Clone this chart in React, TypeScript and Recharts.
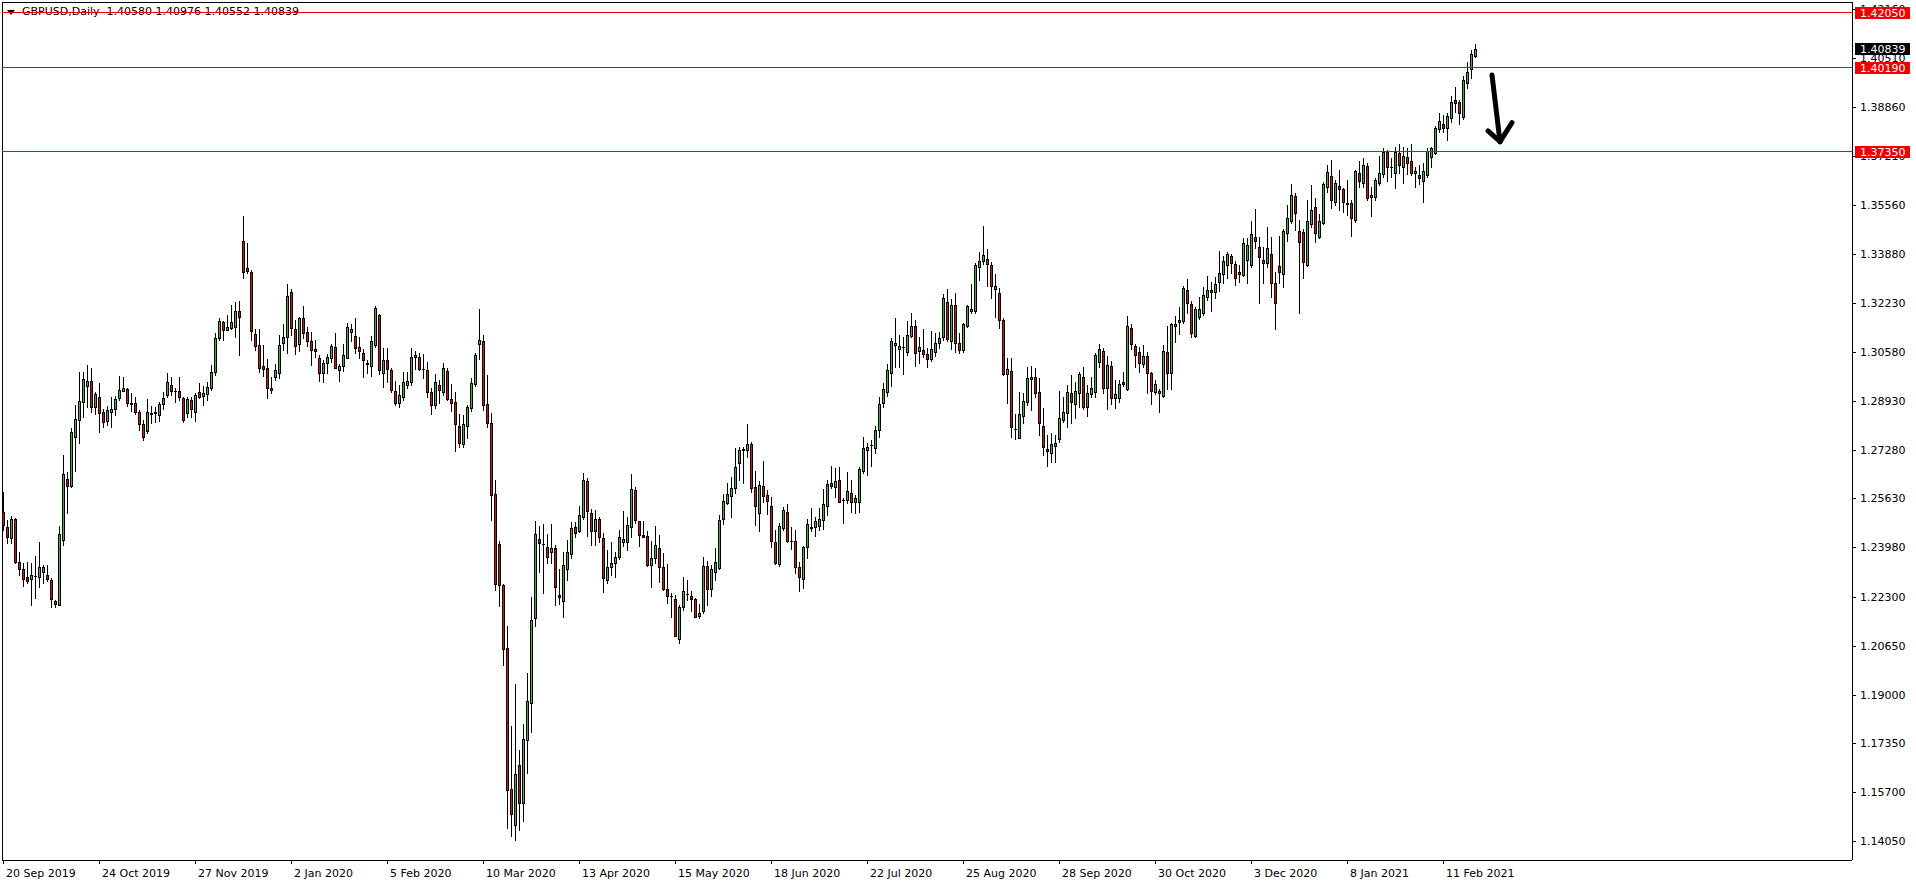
import React from "react";
import { ComposedChart, Bar, XAxis, YAxis, ReferenceLine } from "recharts";

const symbolTitle = "GBPUSD,Daily";

const opens = [
  1.2518, 1.2465, 1.2428, 1.2492, 1.2347, 1.2323, 1.2296, 1.2289, 1.2301, 1.2298,
  1.2315, 1.2304, 1.2287, 1.2216, 1.2203, 1.2422, 1.2627, 1.2605, 1.2772, 1.2828,
  1.2890, 1.2943, 1.2960, 1.2873, 1.2905, 1.2855, 1.2826, 1.2856, 1.2864, 1.2901,
  1.2927, 1.2932, 1.2887, 1.2884, 1.2855, 1.2813, 1.2792, 1.2850, 1.2853, 1.2845,
  1.2881, 1.2913, 1.2945, 1.2926, 1.2926, 1.2901, 1.2851, 1.2896, 1.2854, 1.2922,
  1.2910, 1.2915, 1.2935, 1.2989, 1.3104, 1.3158, 1.3134, 1.3138, 1.3144, 1.3196,
  1.3432, 1.3341, 1.3327, 1.3118, 1.3082, 1.3011, 1.3003, 1.2935, 1.2974, 1.2988,
  1.3090, 1.3107, 1.3260, 1.3136, 1.3084, 1.3172, 1.3124, 1.3095, 1.3069, 1.3036,
  1.2986, 1.3020, 1.3038, 1.3074, 1.2998, 1.3010, 1.3038, 1.3126, 1.3111, 1.3076,
  1.3055, 1.3020, 1.3010, 1.3080, 1.3182, 1.2986, 1.3030, 1.2998, 1.2926, 1.2886,
  1.2907, 1.2948, 1.2957, 1.3042, 1.3041, 1.3000, 1.2997, 1.2922, 1.2879, 1.2945,
  1.2923, 1.2995, 1.2898, 1.2888, 1.2809, 1.2748, 1.2807, 1.2869, 1.2951, 1.3086,
  1.3095, 1.2882, 1.2817, 1.2579, 1.2410, 1.2269, 1.2058, 1.1582, 1.1459, 1.1661,
  1.1534, 1.1745, 1.1871, 1.2160, 1.2425, 1.2409, 1.2398, 1.2383, 1.2394, 1.2238,
  1.2217, 1.2325, 1.2374, 1.2465, 1.2454, 1.2501, 1.2622, 1.2513, 1.2454, 1.2495,
  1.2428, 1.2287, 1.2330, 1.2346, 1.2364, 1.2417, 1.2417, 1.2467, 1.2592, 1.2486,
  1.2439, 1.2436, 1.2338, 1.2360, 1.2397, 1.2330, 1.2258, 1.2233, 1.2222, 1.2087,
  1.2195, 1.2240, 1.2233, 1.2222, 1.2167, 1.2183, 1.2334, 1.2258, 1.2315, 1.2329,
  1.2492, 1.2548, 1.2572, 1.2597, 1.2681, 1.2725, 1.2725, 1.2747, 1.2600, 1.2515,
  1.2605, 1.2574, 1.2537, 1.2414, 1.2341, 1.2462, 1.2517, 1.2420, 1.2419, 1.2332,
  1.2289, 1.2398, 1.2462, 1.2468, 1.2470, 1.2490, 1.2537, 1.2614, 1.2600, 1.2625,
  1.2558, 1.2558, 1.2580, 1.2550, 1.2552, 1.2656, 1.2726, 1.2743, 1.2732, 1.2794,
  1.2884, 1.2924, 1.2986, 1.3083, 1.3067, 1.3075, 1.3059, 1.3112, 1.3146, 1.3062,
  1.3064, 1.3050, 1.3033, 1.3059, 1.3087, 1.3110, 1.3228, 1.3095, 1.3216, 1.3087,
  1.3064, 1.3146, 1.3198, 1.3197, 1.3344, 1.3367, 1.3371, 1.3352, 1.3270, 1.3256,
  1.3166, 1.2983, 1.2995, 1.2797, 1.2768, 1.2841, 1.2890, 1.2972, 1.2972, 1.2924,
  1.2809, 1.2730, 1.2715, 1.2740, 1.2763, 1.2828, 1.2853, 1.2918, 1.2881, 1.2920,
  1.2972, 1.2871, 1.2915, 1.2924, 1.3025, 1.3062, 1.2937, 1.3011, 1.2904, 1.2901,
  1.2955, 1.2932, 1.3138, 1.3078, 1.3057, 1.3016, 1.3044, 1.2986, 1.2924, 1.2926,
  1.2909, 1.3057, 1.2986, 1.3147, 1.3160, 1.3164, 1.3267, 1.3220, 1.3112, 1.3175,
  1.3189, 1.3245, 1.3262, 1.3262, 1.3293, 1.3321, 1.3352, 1.3383, 1.3354, 1.3328,
  1.3318, 1.3369, 1.3352, 1.3446, 1.3412, 1.3369, 1.3358, 1.3389, 1.3290, 1.3349,
  1.3321, 1.3459, 1.3502, 1.3585, 1.3467, 1.3462, 1.3352, 1.3491, 1.3547, 1.3448,
  1.3495, 1.3615, 1.3653, 1.3566, 1.3619, 1.3608, 1.3560, 1.3561, 1.3504, 1.3662,
  1.3628, 1.3687, 1.3583, 1.3583, 1.3630, 1.3659, 1.3733, 1.3683, 1.3664, 1.3730,
  1.3682, 1.3716, 1.3704, 1.3662, 1.3656, 1.3637, 1.3656, 1.3718, 1.3732, 1.3811,
  1.3829, 1.3814, 1.3848, 1.3910, 1.3904, 1.3853, 1.3968, 1.4014, 1.40580,
];

const highs = [
  1.2586, 1.2490, 1.2503, 1.2496, 1.2383, 1.2343, 1.2349, 1.2343, 1.2368, 1.2417,
  1.2338, 1.2338, 1.2293, 1.2219, 1.2470, 1.2710, 1.2653, 1.2800, 1.2879, 1.2991,
  1.2991, 1.3014, 1.3003, 1.2924, 1.2952, 1.2864, 1.2875, 1.2905, 1.2909, 1.2977,
  1.2974, 1.2935, 1.2918, 1.2907, 1.2862, 1.2828, 1.2898, 1.2875, 1.2873, 1.2890,
  1.2924, 1.2988, 1.2974, 1.2935, 1.2972, 1.2907, 1.2907, 1.2907, 1.2921, 1.2952,
  1.2943, 1.2958, 1.3014, 1.3121, 1.3172, 1.3164, 1.3183, 1.3217, 1.3228, 1.3230,
  1.3518, 1.3428, 1.3335, 1.3135, 1.3135, 1.3082, 1.3033, 1.2974, 1.3017, 1.3116,
  1.3153, 1.3288, 1.3270, 1.3166, 1.3177, 1.3213, 1.3143, 1.3124, 1.3099, 1.3047,
  1.3032, 1.3051, 1.3086, 1.3122, 1.3017, 1.3085, 1.3157, 1.3154, 1.3174, 1.3110,
  1.3067, 1.3032, 1.3111, 1.3214, 1.3186, 1.3070, 1.3070, 1.3005, 1.2961, 1.2948,
  1.2992, 1.2992, 1.3072, 1.3063, 1.3053, 1.3051, 1.3023, 1.2936, 1.2982, 1.2963,
  1.3020, 1.3003, 1.2951, 1.2923, 1.2848, 1.2844, 1.2879, 1.2970, 1.3053, 1.3204,
  1.3117, 1.2980, 1.2851, 1.2625, 1.2419, 1.2272, 1.2131, 1.1793, 1.1934, 1.1711,
  1.1799, 1.1972, 1.2229, 1.2485, 1.2469, 1.2475, 1.2441, 1.2476, 1.2405, 1.2326,
  1.2383, 1.2422, 1.2484, 1.2484, 1.2537, 1.2650, 1.2633, 1.2526, 1.2524, 1.2501,
  1.2445, 1.2388, 1.2417, 1.2383, 1.2456, 1.2521, 1.2501, 1.2645, 1.2600, 1.2487,
  1.2487, 1.2454, 1.2420, 1.2469, 1.2439, 1.2377, 1.2341, 1.2244, 1.2236, 1.2202,
  1.2298, 1.2287, 1.2250, 1.2225, 1.2206, 1.2364, 1.2352, 1.2338, 1.2394, 1.2507,
  1.2578, 1.2616, 1.2637, 1.2734, 1.2738, 1.2738, 1.2814, 1.2755, 1.2655, 1.2622,
  1.2690, 1.2591, 1.2569, 1.2456, 1.2479, 1.2535, 1.2544, 1.2465, 1.2456, 1.2349,
  1.2402, 1.2493, 1.2529, 1.2499, 1.2529, 1.2594, 1.2625, 1.2672, 1.2667, 1.2668,
  1.2563, 1.2651, 1.2625, 1.2574, 1.2670, 1.2772, 1.2749, 1.2760, 1.2808, 1.2907,
  1.2954, 1.3016, 1.3106, 1.3174, 1.3115, 1.3110, 1.3163, 1.3189, 1.3166, 1.3110,
  1.3135, 1.3072, 1.3129, 1.3121, 1.3127, 1.3254, 1.3270, 1.3236, 1.3256, 1.3123,
  1.3155, 1.3217, 1.3288, 1.3360, 1.3397, 1.3484, 1.3405, 1.3363, 1.3322, 1.3273,
  1.3172, 1.3036, 1.3036, 1.2850, 1.2924, 1.2918, 1.3008, 1.3010, 1.3003, 1.2969,
  1.2868, 1.2777, 1.2783, 1.2777, 1.2927, 1.2907, 1.2946, 1.2980, 1.2958, 1.2991,
  1.3008, 1.2946, 1.2974, 1.3053, 1.3084, 1.3070, 1.3045, 1.3028, 1.2963, 1.2963,
  1.2991, 1.3180, 1.3153, 1.3085, 1.3076, 1.3082, 1.3059, 1.2989, 1.2963, 1.2933,
  1.3082, 1.3146, 1.3157, 1.3180, 1.3211, 1.3281, 1.3305, 1.3230, 1.3211, 1.3245,
  1.3276, 1.3315, 1.3296, 1.3313, 1.3400, 1.3382, 1.3397, 1.3389, 1.3367, 1.3352,
  1.3445, 1.3442, 1.3502, 1.3541, 1.3448, 1.3414, 1.3481, 1.3448, 1.3330, 1.3451,
  1.3474, 1.3555, 1.3625, 1.3594, 1.3504, 1.3473, 1.3572, 1.3622, 1.3578, 1.3523,
  1.3631, 1.3690, 1.3707, 1.3639, 1.3673, 1.3611, 1.3639, 1.3572, 1.3673, 1.3704,
  1.3715, 1.3698, 1.3617, 1.3645, 1.3721, 1.3746, 1.3741, 1.3713, 1.3750, 1.3760,
  1.3750, 1.3746, 1.3761, 1.3684, 1.3690, 1.3698, 1.3746, 1.3752, 1.3822, 1.3867,
  1.3859, 1.3867, 1.3923, 1.3955, 1.3910, 1.3991, 1.4037, 1.4079, 1.40976,
];

const lows = [
  1.2456, 1.2413, 1.2413, 1.2343, 1.2304, 1.2267, 1.2276, 1.2203, 1.2225, 1.2264,
  1.2276, 1.2285, 1.2195, 1.2195, 1.2203, 1.2405, 1.2515, 1.2603, 1.2657, 1.2749,
  1.2839, 1.2873, 1.2856, 1.2847, 1.2789, 1.2805, 1.2811, 1.2805, 1.2845, 1.2896,
  1.2926, 1.2875, 1.2858, 1.2850, 1.2794, 1.2760, 1.2783, 1.2819, 1.2822, 1.2826,
  1.2864, 1.2907, 1.2913, 1.2890, 1.2896, 1.2822, 1.2837, 1.2839, 1.2826, 1.2901,
  1.2879, 1.2896, 1.2929, 1.2980, 1.3098, 1.3098, 1.3132, 1.3136, 1.3107, 1.3048,
  1.3307, 1.3324, 1.3098, 1.3065, 1.2991, 1.2977, 1.2904, 1.2920, 1.2963, 1.2969,
  1.3065, 1.3053, 1.3115, 1.3051, 1.3062, 1.3104, 1.3078, 1.3013, 1.3042, 1.2961,
  1.2955, 1.2986, 1.3023, 1.3005, 1.2961, 1.2995, 1.3036, 1.3095, 1.3055, 1.3038,
  1.2973, 1.2988, 1.2976, 1.3074, 1.2982, 1.2941, 1.2957, 1.2922, 1.2879, 1.2873,
  1.2894, 1.2936, 1.2945, 1.3001, 1.2997, 1.2970, 1.2907, 1.2848, 1.2869, 1.2886,
  1.2913, 1.2894, 1.2859, 1.2723, 1.2738, 1.2738, 1.2767, 1.2859, 1.2942, 1.3035,
  1.2863, 1.2803, 1.2490, 1.2254, 1.2200, 1.1999, 1.1448, 1.1423, 1.1408, 1.1442,
  1.1474, 1.1636, 1.1774, 1.2131, 1.2315, 1.2243, 1.2344, 1.2343, 1.2202, 1.2206,
  1.2163, 1.2287, 1.2360, 1.2431, 1.2450, 1.2493, 1.2436, 1.2405, 1.2405, 1.2417,
  1.2248, 1.2276, 1.2304, 1.2298, 1.2357, 1.2402, 1.2388, 1.2431, 1.2481, 1.2402,
  1.2431, 1.2334, 1.2264, 1.2343, 1.2281, 1.2253, 1.2210, 1.2163, 1.2098, 1.2075,
  1.2186, 1.2219, 1.2183, 1.2161, 1.2157, 1.2174, 1.2203, 1.2233, 1.2287, 1.2324,
  1.2476, 1.2544, 1.2501, 1.2582, 1.2625, 1.2616, 1.2704, 1.2586, 1.2473, 1.2454,
  1.2552, 1.2510, 1.2400, 1.2341, 1.2334, 1.2456, 1.2417, 1.2391, 1.2312, 1.2251,
  1.2259, 1.2360, 1.2454, 1.2436, 1.2456, 1.2458, 1.2507, 1.2597, 1.2567, 1.2550,
  1.2479, 1.2548, 1.2518, 1.2512, 1.2518, 1.2650, 1.2642, 1.2673, 1.2718, 1.2769,
  1.2873, 1.2909, 1.2944, 1.3006, 1.3006, 1.2982, 1.3048, 1.3107, 1.3011, 1.3020,
  1.3042, 1.3006, 1.3028, 1.3045, 1.3070, 1.3098, 1.3095, 1.3067, 1.3059, 1.3053,
  1.3057, 1.3141, 1.3189, 1.3189, 1.3301, 1.3355, 1.3282, 1.3242, 1.3177, 1.3140,
  1.2980, 1.2884, 1.2772, 1.2763, 1.2766, 1.2817, 1.2879, 1.2862, 1.2907, 1.2777,
  1.2710, 1.2674, 1.2687, 1.2687, 1.2755, 1.2820, 1.2806, 1.2819, 1.2836, 1.2873,
  1.2864, 1.2843, 1.2907, 1.2907, 1.3006, 1.2920, 1.2864, 1.2881, 1.2868, 1.2890,
  1.2943, 1.2929, 1.3068, 1.3008, 1.2989, 1.3008, 1.2918, 1.2881, 1.2915, 1.2854,
  1.2905, 1.2932, 1.2932, 1.3093, 1.3119, 1.3157, 1.3191, 1.3107, 1.3107, 1.3168,
  1.3183, 1.3234, 1.3198, 1.3242, 1.3265, 1.3290, 1.3307, 1.3324, 1.3284, 1.3296,
  1.3315, 1.3290, 1.3346, 1.3408, 1.3225, 1.3290, 1.3346, 1.3245, 1.3135, 1.3290,
  1.3279, 1.3434, 1.3493, 1.3470, 1.3189, 1.3307, 1.3349, 1.3482, 1.3431, 1.3442,
  1.3491, 1.3598, 1.3544, 1.3555, 1.3538, 1.3532, 1.3521, 1.3450, 1.3499, 1.3615,
  1.3617, 1.3572, 1.3519, 1.3572, 1.3622, 1.3651, 1.3637, 1.3651, 1.3611, 1.3662,
  1.3630, 1.3660, 1.3656, 1.3615, 1.3626, 1.3566, 1.3648, 1.3682, 1.3727, 1.3803,
  1.3803, 1.3775, 1.3837, 1.3870, 1.3829, 1.3844, 1.3952, 1.3983, 1.40552,
];

const closes = [
  1.2473, 1.2434, 1.2495, 1.2349, 1.2323, 1.2289, 1.2285, 1.2304, 1.2300, 1.2330,
  1.2330, 1.2289, 1.2222, 1.2205, 1.2443, 1.2645, 1.2605, 1.2789, 1.2830, 1.2892,
  1.2965, 1.2960, 1.2873, 1.2916, 1.2851, 1.2822, 1.2862, 1.2864, 1.2898, 1.2929,
  1.2935, 1.2884, 1.2881, 1.2856, 1.2813, 1.2772, 1.2855, 1.2851, 1.2854, 1.2882,
  1.2903, 1.2956, 1.2927, 1.2926, 1.2907, 1.2828, 1.2898, 1.2864, 1.2913, 1.2907,
  1.2918, 1.2941, 1.2991, 1.3104, 1.3163, 1.3132, 1.3142, 1.3158, 1.3196, 1.3175,
  1.3330, 1.3333, 1.3130, 1.3079, 1.3005, 1.3000, 1.2937, 1.2929, 1.2997, 1.3082,
  1.3110, 1.3247, 1.3138, 1.3079, 1.3172, 1.3121, 1.3096, 1.3066, 1.3060, 1.2988,
  1.3020, 1.3041, 1.3078, 1.3005, 1.3010, 1.3047, 1.3142, 1.3137, 1.3070, 1.3060,
  1.3030, 1.3019, 1.3095, 1.3207, 1.2998, 1.3032, 1.3001, 1.2928, 1.2884, 1.2913,
  1.2955, 1.2960, 1.3041, 1.3047, 1.3001, 1.2999, 1.2922, 1.2879, 1.2955, 1.2930,
  1.3003, 1.2898, 1.2884, 1.2813, 1.2750, 1.2813, 1.2873, 1.2953, 1.3047, 1.3099,
  1.2879, 1.2819, 1.2573, 1.2275, 1.2269, 1.2053, 1.1577, 1.1496, 1.1632, 1.1534,
  1.1749, 1.1877, 1.2152, 1.2444, 1.2412, 1.2409, 1.2365, 1.2394, 1.2264, 1.2231,
  1.2338, 1.2381, 1.2462, 1.2445, 1.2507, 1.2625, 1.2521, 1.2454, 1.2495, 1.2431,
  1.2293, 1.2332, 1.2343, 1.2364, 1.2431, 1.2425, 1.2473, 1.2594, 1.2490, 1.2439,
  1.2434, 1.2338, 1.2360, 1.2405, 1.2332, 1.2258, 1.2234, 1.2233, 1.2099, 1.2195,
  1.2250, 1.2241, 1.2222, 1.2163, 1.2174, 1.2335, 1.2258, 1.2323, 1.2347, 1.2490,
  1.2554, 1.2578, 1.2599, 1.2668, 1.2727, 1.2729, 1.2747, 1.2599, 1.2538, 1.2607,
  1.2572, 1.2555, 1.2420, 1.2343, 1.2470, 1.2524, 1.2420, 1.2420, 1.2332, 1.2298,
  1.2400, 1.2475, 1.2468, 1.2487, 1.2492, 1.2544, 1.2612, 1.2606, 1.2622, 1.2552,
  1.2557, 1.2588, 1.2552, 1.2566, 1.2662, 1.2732, 1.2737, 1.2745, 1.2794, 1.2882,
  1.2933, 1.2997, 1.3095, 1.3087, 1.3078, 1.3075, 1.3115, 1.3146, 1.3053, 1.3075,
  1.3050, 1.3033, 1.3068, 1.3087, 1.3104, 1.3239, 1.3101, 1.3216, 1.3089, 1.3065,
  1.3151, 1.3213, 1.3202, 1.3352, 1.3367, 1.3386, 1.3354, 1.3282, 1.3281, 1.3166,
  1.2983, 1.2999, 1.2805, 1.2796, 1.2848, 1.2892, 1.2969, 1.2967, 1.2918, 1.2817,
  1.2738, 1.2724, 1.2746, 1.2749, 1.2834, 1.2854, 1.2924, 1.2888, 1.2927, 1.2983,
  1.2873, 1.2918, 1.2935, 1.3048, 1.3067, 1.2935, 1.3014, 1.2904, 1.2915, 1.2949,
  1.2949, 1.3147, 1.3085, 1.3048, 1.3020, 1.3044, 1.2986, 1.2926, 1.2949, 1.2918,
  1.3062, 1.2986, 1.3153, 1.3153, 1.3166, 1.3273, 1.3225, 1.3123, 1.3202, 1.3202,
  1.3251, 1.3267, 1.3267, 1.3288, 1.3324, 1.3365, 1.3388, 1.3358, 1.3307, 1.3322,
  1.3425, 1.3420, 1.3457, 1.3434, 1.3380, 1.3358, 1.3408, 1.3290, 1.3225, 1.3330,
  1.3467, 1.3510, 1.3589, 1.3529, 1.3429, 1.3363, 1.3501, 1.3538, 1.3459, 1.3501,
  1.3626, 1.3668, 1.3572, 1.3628, 1.3608, 1.3566, 1.3559, 1.3510, 1.3670, 1.3637,
  1.3690, 1.3580, 1.3589, 1.3639, 1.3662, 1.3735, 1.3682, 1.3682, 1.3735, 1.3690,
  1.3722, 1.3696, 1.3664, 1.3670, 1.3645, 1.3671, 1.3737, 1.3746, 1.3814, 1.3839,
  1.3816, 1.3856, 1.3904, 1.3901, 1.3867, 1.3977, 1.4004, 1.4065, 1.40839,
];

const dateLabels = [
  "20 Sep 2019", "24 Oct 2019", "27 Nov 2019", "2 Jan 2020", "5 Feb 2020",
  "10 Mar 2020", "13 Apr 2020", "15 May 2020", "18 Jun 2020", "22 Jul 2020",
  "25 Aug 2020", "28 Sep 2020", "30 Oct 2020", "3 Dec 2020", "8 Jan 2021",
  "11 Feb 2021",
];
const barsPerLabel = 24;
const totalSlots = 462;

const priceTicks = [
  1.1405, 1.157, 1.1735, 1.19, 1.2065, 1.223, 1.2398, 1.2563, 1.2728,
  1.2893, 1.3058, 1.3223, 1.3388, 1.3556, 1.3721, 1.3886, 1.4051, 1.4216,
];
const levelPrices = [1.4205, 1.4019, 1.3735];

// hand-drawn arrow annotation (bar slot, price)
const arrowShaft = [{ x: 372, y: 1.39944 }, { x: 374, y: 1.37689 }];
const arrowLeft = [{ x: 371, y: 1.38051 }, { x: 374, y: 1.37689 }];
const arrowRight = [{ x: 374, y: 1.37689 }, { x: 377, y: 1.38331 }];

const Y_DOMAIN: [number, number] = [1.134056, 1.424117];
const FONT = "'DejaVu Sans', Verdana, sans-serif";
const GREEN = "#3CB43C";
const RED_FILL = "#D21414";
const LEVEL_RED = "#F00000";

const rows = Array.from({ length: totalSlots }, (_, i) =>
  i < closes.length
    ? { i, o: opens[i], h: highs[i], l: lows[i], c: closes[i], range: [lows[i], highs[i]] }
    : { i }
);
const lastIdx = closes.length - 1;
const lastClose = closes[lastIdx];
const axisTicks = [...priceTicks, ...levelPrices, lastClose];

function Candle(props: any) {
  const { x, y, width, height, payload } = props;
  if (!payload || payload.h == null) return <g />;
  const top = Math.min(y, y + height);
  const bot = Math.max(y, y + height);
  const span = payload.h - payload.l || 1;
  const py = (v: number) => top + ((payload.h - v) / span) * (bot - top);
  const col = Math.round(x + width / 2) - 1;
  const yH = Math.round(py(payload.h));
  const yL = Math.round(py(payload.l));
  const bTop = Math.round(py(Math.max(payload.o, payload.c)));
  const bBot = Math.round(py(Math.min(payload.o, payload.c)));
  const up = payload.c >= payload.o;
  return (
    <g shapeRendering="crispEdges">
      <line x1={col + 0.5} x2={col + 0.5} y1={yH} y2={yL + 1} stroke="#000" strokeWidth={1} />
      {bBot - bTop >= 1 ? (
        <rect x={col - 0.5} y={bTop + 0.5} width={2} height={bBot - bTop}
          fill={up ? GREEN : RED_FILL} stroke="#000" strokeWidth={1} />
      ) : (
        <line x1={col - 1} x2={col + 2} y1={bTop + 0.5} y2={bTop + 0.5} stroke="#000" strokeWidth={1} />
      )}
    </g>
  );
}

function XTick(props: any) {
  const { x, y, payload } = props;
  const col = Math.round(x) - 1;
  const label = dateLabels[Math.round(payload.value / barsPerLabel)];
  return (
    <g>
      <line x1={col + 0.5} x2={col + 0.5} y1={y} y2={y + 4} stroke="#000" shapeRendering="crispEdges" />
      <text x={col + 3} y={y + 17} fontSize={11} fontFamily={FONT} fill="#000">{label}</text>
    </g>
  );
}

function YTick(props: any) {
  const { x, y, payload } = props;
  const v = Number(payload.value);
  const isLevel = levelPrices.includes(v);
  const isLast = v === lastClose;
  const yy = Math.round(y) + 0.5;
  if (isLevel || isLast) {
    const cy = Math.round(y);
    return (
      <g>
        <rect x={x + 3} y={cy - 6} width={55} height={12} fill={isLast ? "#000" : LEVEL_RED} shapeRendering="crispEdges" />
        <text x={x + 8} y={cy + 4} fontSize={11} fontFamily={FONT} fill="#fff">{v.toFixed(5)}</text>
      </g>
    );
  }
  return (
    <g>
      <line x1={x} x2={x + 4} y1={yy} y2={yy} stroke="#000" shapeRendering="crispEdges" />
      <text x={x + 8} y={y + 4} fontSize={11} fontFamily={FONT} fill="#000">{v.toFixed(5)}</text>
    </g>
  );
}

export default function App() {
  const header = `${symbolTitle}  ${opens[lastIdx].toFixed(5)} ${highs[lastIdx].toFixed(5)} ${lows[lastIdx].toFixed(5)} ${closes[lastIdx].toFixed(5)}`;
  const xTicks = dateLabels.map((_, k) => k * barsPerLabel);
  return (
    <div style={{ position: "absolute", left: 0, top: 0, width: 1916, height: 884, background: "#fff", overflow: "hidden" }}>
      <div style={{ position: "absolute", left: 2, top: 2, width: 1850, height: 858, borderLeft: "1px solid #000", borderTop: "1px solid #000", boxSizing: "border-box" }} />
      <div style={{ position: "absolute", left: 6, top: 5, fontFamily: FONT, fontSize: 11, color: "#000", whiteSpace: "pre", display: "flex", alignItems: "center", lineHeight: "14px" }}>
        <svg width={10} height={14} style={{ marginRight: 6 }}>
          <polygon points="1,5 9,5 5,10" fill="#000" />
        </svg>
        <span>{header}</span>
      </div>
      <div style={{ position: "absolute", left: 0, top: 0 }}>
        <ComposedChart width={1916} height={884} data={rows}
          margin={{ top: 2, right: 0, bottom: 0, left: 2 }} barCategoryGap={0}>
          <XAxis dataKey="i" type="category" ticks={xTicks} interval={0} height={24}
            padding={{ left: 0, right: 2 }} tickLine={false} tickSize={0} tickMargin={0}
            axisLine={{ stroke: "#000", shapeRendering: "crispEdges" }} tick={<XTick />} />
          <YAxis orientation="right" type="number" domain={Y_DOMAIN} allowDataOverflow
            ticks={axisTicks} interval={0} width={64} tickLine={false} tickSize={0} tickMargin={0}
            axisLine={{ stroke: "#000", shapeRendering: "crispEdges" }} tick={<YTick />} />
          <Bar dataKey="range" isAnimationActive={false} shape={<Candle />} />
          {levelPrices.map((p) => (
            <ReferenceLine key={p} y={p} stroke={LEVEL_RED} strokeWidth={1} shapeRendering="crispEdges"
              ifOverflow="visible" />
          ))}
          <ReferenceLine segment={arrowShaft} stroke="#000" strokeWidth={5} strokeLinecap="round" ifOverflow="visible" />
          <ReferenceLine segment={arrowLeft} stroke="#000" strokeWidth={5} strokeLinecap="round" ifOverflow="visible" />
          <ReferenceLine segment={arrowRight} stroke="#000" strokeWidth={5} strokeLinecap="round" ifOverflow="visible" />
        </ComposedChart>
      </div>
    </div>
  );
}
